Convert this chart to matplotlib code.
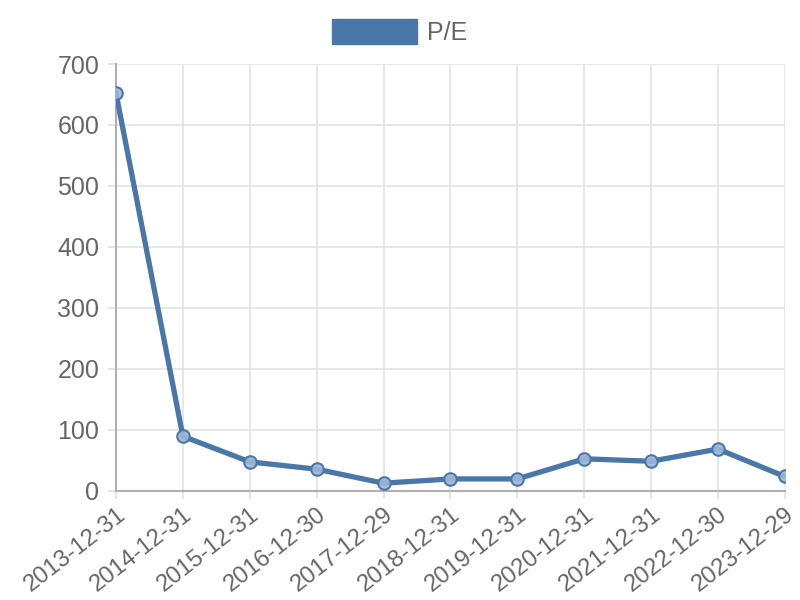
import matplotlib
matplotlib.use("Agg")
import matplotlib.pyplot as plt
from matplotlib.patches import Patch

dates = ["2013-12-31", "2014-12-31", "2015-12-31", "2016-12-30", "2017-12-29",
         "2018-12-31", "2019-12-31", "2020-12-31", "2021-12-31", "2022-12-30",
         "2023-12-29"]
pe = [652, 89, 47, 35, 12, 19, 19, 52, 48, 68, 23]
yticks = [0, 100, 200, 300, 400, 500, 600, 700]

line_color = "#4a77a8"
text_color = "#666666"
plt.rcParams['font.family'] = ['Liberation Sans', 'DejaVu Sans']

fig = plt.figure(figsize=(8, 6), dpi=100)
ax = fig.add_axes([0.145, 0.1825, 0.836, 0.7108])

x = list(range(len(dates)))
ax.plot(x, pe, color=line_color, lw=3.8, zorder=3,
        marker='o', markersize=9, markerfacecolor=(0.62, 0.72, 0.84, 0.9),
        markeredgecolor=line_color, markeredgewidth=1.5)

ax.set_xlim(0, len(dates) - 1)
ax.set_ylim(0, 700)
ax.set_xticks(x)
ax.set_xticklabels(dates, rotation=38, ha='right', rotation_mode='anchor',
                   fontsize=17.2, color=text_color)
ax.set_yticks(yticks)
ax.set_yticklabels([str(v) for v in yticks], fontsize=18, color=text_color)

ax.grid(True, color='#e3e3e3', lw=1.2, zorder=0)
ax.set_axisbelow(True)
for s in ['top', 'right']:
    ax.spines[s].set_visible(False)
for s in ['left', 'bottom']:
    ax.spines[s].set_color('#b0b0b0')
    ax.spines[s].set_linewidth(1.5)
ax.tick_params(axis='both', length=6, width=1.2, color='#e0e0e0')
ax.tick_params(axis='x', pad=3)
ax.tick_params(axis='y', pad=6)

handle = Patch(facecolor=line_color, edgecolor=line_color)
fig.legend([handle], ["P/E"], loc='center', bbox_to_anchor=(0.4995, 0.947),
           frameon=False, fontsize=18, labelcolor=text_color,
           handlelength=3.4, handleheight=1.15, handletextpad=0.4)

fig.savefig("out.png", dpi=100)
